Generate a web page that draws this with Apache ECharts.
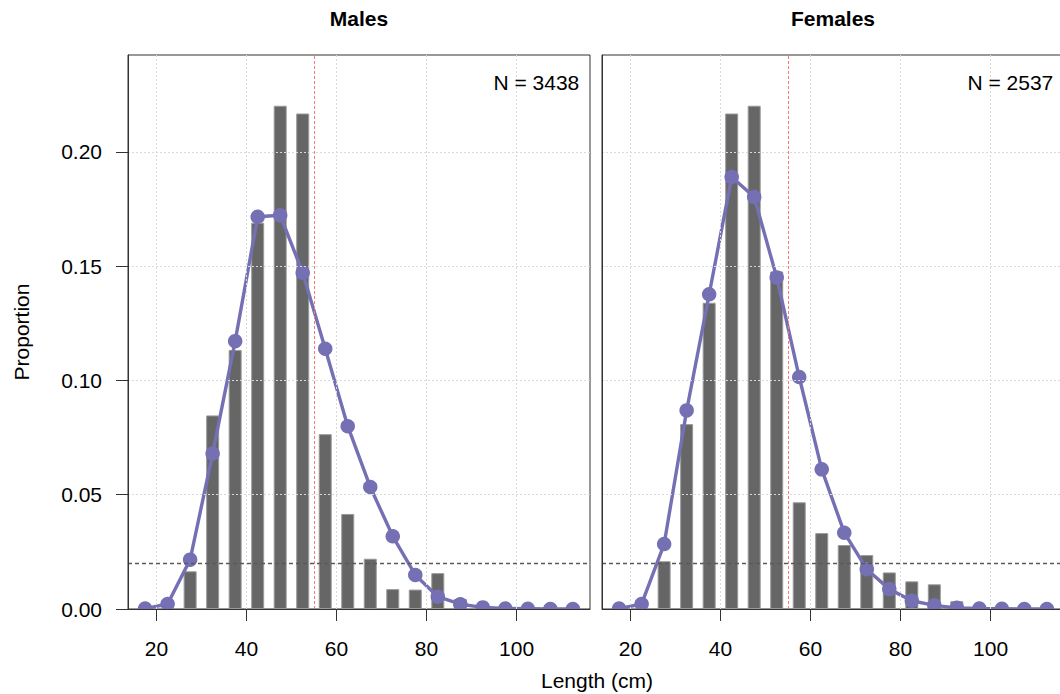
<!DOCTYPE html>
<html>
<head>
<meta charset="utf-8">
<title>Length composition by sex</title>
<script src="https://cdn.jsdelivr.net/npm/echarts@6/dist/echarts.min.js"></script>
<style>
  html, body { margin: 0; padding: 0; background: #ffffff; }
  #chart { width: 1060px; height: 694px; }
</style>
</head>
<body>
<div id="chart"></div>
<script>
// Length bin mid-points (cm)
const lengthBins = [17.5, 22.5, 27.5, 32.5, 37.5, 42.5, 47.5, 52.5, 57.5, 62.5,
                    67.5, 72.5, 77.5, 82.5, 87.5, 92.5, 97.5, 102.5, 107.5, 112.5];

// Observed proportions (bars)
const maleObserved   = [0, 0, 0.0165, 0.0847, 0.1133, 0.1690, 0.2202, 0.2168, 0.0765, 0.0416,
                        0.0220, 0.0087, 0.0085, 0.0157, 0.0044, 0, 0, 0, 0, 0];
const femaleObserved = [0, 0, 0.0209, 0.0809, 0.1340, 0.2168, 0.2202, 0.1477, 0.0467, 0.0332,
                        0.0280, 0.0236, 0.0160, 0.0121, 0.0108, 0.0034, 0, 0, 0, 0];

// Expected proportions (line with points)
const maleExpected   = [0.0002, 0.0022, 0.0216, 0.0680, 0.1172, 0.1716, 0.1723, 0.1471, 0.1139, 0.0800,
                        0.0534, 0.0318, 0.0149, 0.0054, 0.0021, 0.0007, 0.0002, 0.0001, 0, 0];
const femaleExpected = [0.0002, 0.0022, 0.0284, 0.0869, 0.1377, 0.1890, 0.1803, 0.1451, 0.1015, 0.0611,
                        0.0334, 0.0174, 0.0087, 0.0036, 0.0016, 0.0005, 0.0002, 0.0001, 0, 0];

const panelTitles = ['Males', 'Females'];
const sampleSizes = [3438, 2537];

const xTicks = [20, 40, 60, 80, 100];
const yTicks = [0, 0.05, 0.10, 0.15, 0.20];
const xRange = [13.7, 116.3];
const yRange = [0, 0.2424];

const referenceLength = 55;       // vertical reference line (cm)
const referenceProportion = 0.02; // horizontal reference line

const FONT = '"Liberation Sans", Arial, Helvetica, sans-serif';
const BAR_COLOR = '#666666';
const LINE_COLOR = '#7570b3';

const panels = [
  { left: 128, top: 55, width: 462, height: 554, obs: maleObserved, exp: maleExpected },
  { left: 602, top: 55, width: 462, height: 554, obs: femaleObserved, exp: femaleExpected }
];

const pairs = (xs, ys) => xs.map((x, i) => [x, ys[i]]);

const grids = [], xAxes = [], yAxes = [], series = [], graphics = [];

panels.forEach((p, i) => {
  grids.push({
    left: p.left, top: p.top, width: p.width, height: p.height,
    show: true, borderColor: '#333333', borderWidth: 1, backgroundColor: 'transparent',
    containLabel: false, outerBoundsMode: 'none'
  });

  xAxes.push({
    type: 'value', gridIndex: i, min: xRange[0], max: xRange[1], z: 10,
    splitLine: { show: false },
    axisLine: { show: true, onZero: false, lineStyle: { color: '#333333', width: 1 } },
    axisTick: { show: true, customValues: xTicks, length: 12, lineStyle: { color: '#333333', width: 1 } },
    axisLabel: { show: true, customValues: xTicks, margin: 29, fontSize: 21, color: '#000000', fontFamily: FONT }
  });

  yAxes.push({
    type: 'value', gridIndex: i, min: yRange[0], max: yRange[1], z: 10,
    splitLine: { show: false },
    axisLine: { show: true, lineStyle: { color: '#333333', width: 1 } },
    axisTick: { show: i === 0, customValues: yTicks, length: 12, lineStyle: { color: '#333333', width: 1 } },
    axisLabel: {
      show: i === 0, customValues: yTicks, margin: 26, fontSize: 21, color: '#000000', fontFamily: FONT,
      formatter: v => Number(v).toFixed(2)
    }
  });

  // dotted background grid
  series.push({
    type: 'line', xAxisIndex: i, yAxisIndex: i, data: [], z: 1, silent: true, animation: false,
    markLine: {
      silent: true, animation: false, symbol: ['none', 'none'], label: { show: false },
      lineStyle: { color: '#d9d9d9', width: 1, type: [2, 2] },
      data: xTicks.map(v => ({ xAxis: v })).concat(yTicks.slice(1).map(v => ({ yAxis: v })))
    }
  });

  // observed proportions
  series.push({
    type: 'bar', xAxisIndex: i, yAxisIndex: i, z: 2, animation: false,
    barWidth: 13, barGap: '-100%',
    itemStyle: { color: BAR_COLOR, borderColor: '#9a9a9a', borderWidth: 1 },
    data: pairs(lengthBins, p.obs)
  });

  // reference lines
  series.push({
    type: 'line', xAxisIndex: i, yAxisIndex: i, data: [], z: 3, silent: true, animation: false,
    markLine: {
      silent: true, animation: false, symbol: ['none', 'none'], label: { show: false },
      data: [
        { yAxis: referenceProportion, lineStyle: { color: '#5a5a5a', width: 1.4, type: [4, 3] } },
        { xAxis: referenceLength, lineStyle: { color: '#ff7676', width: 1, type: [3, 2] } }
      ]
    }
  });

  // expected proportions
  series.push({
    type: 'line', xAxisIndex: i, yAxisIndex: i, z: 4, animation: false, clip: false,
    symbol: 'circle', symbolSize: 14.5, showAllSymbol: true,
    lineStyle: { color: LINE_COLOR, width: 3.4 },
    itemStyle: { color: LINE_COLOR, borderWidth: 0 },
    data: pairs(lengthBins, p.exp)
  });

  // mask below the plotting region so points on the floor are cut at the frame
  graphics.push({
    type: 'rect', z: 5, silent: true,
    shape: { x: p.left - 1, y: p.top + p.height + 0.5, width: p.width + 2, height: 14 },
    style: { fill: '#ffffff' }
  });

  graphics.push({
    type: 'text', z: 20, x: p.left + p.width / 2, y: 18,
    style: { text: panelTitles[i], font: 'bold 21px ' + FONT, fill: '#000000',
             textAlign: 'center', textVerticalAlign: 'middle' }
  });
  graphics.push({
    type: 'text', z: 20, x: p.left + p.width - 10.7, y: 82,
    style: { text: 'N = ' + sampleSizes[i], font: '21px ' + FONT, fill: '#000000',
             textAlign: 'right', textVerticalAlign: 'middle' }
  });
});

graphics.push({
  type: 'text', z: 20, x: 597, y: 680,
  style: { text: 'Length (cm)', font: '21px ' + FONT, fill: '#000000',
           textAlign: 'center', textVerticalAlign: 'middle' }
});
graphics.push({
  type: 'text', z: 20, x: 21, y: 332, rotation: Math.PI / 2,
  style: { text: 'Proportion', font: '21px ' + FONT, fill: '#000000',
           textAlign: 'center', textVerticalAlign: 'middle' }
});

const chart = echarts.init(document.getElementById('chart'), null, { renderer: 'svg', width: 1060, height: 694 });
chart.setOption({
  animation: false,
  backgroundColor: '#ffffff',
  grid: grids,
  xAxis: xAxes,
  yAxis: yAxes,
  series: series,
  graphic: { elements: graphics }
});
</script>
</body>
</html>
